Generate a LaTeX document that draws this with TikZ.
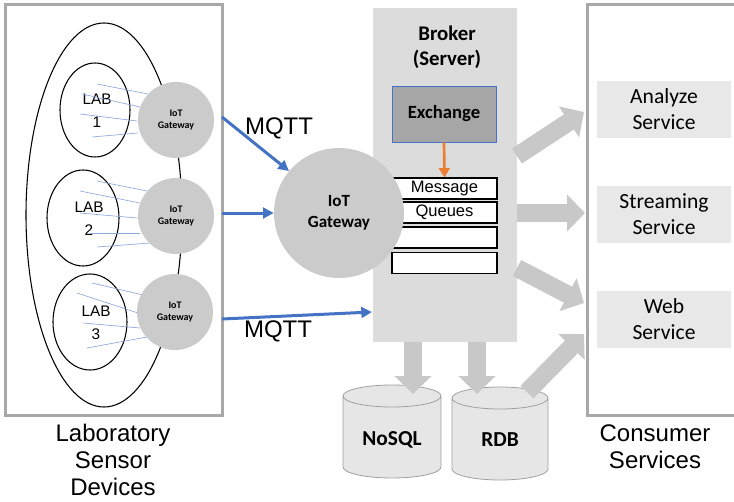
\documentclass[tikz,border=0pt]{standalone}
\usepackage{fontspec}
\setmainfont{Liberation Sans}
\newfontfamily\arial{Liberation Sans}
\newfontfamily\calibri{Carlito}
\usetikzlibrary{arrows.meta,shapes.geometric}
\definecolor{boxgray}{HTML}{A8A8A8}
\definecolor{brokerfill}{HTML}{DCDCDC}
\definecolor{servfill}{HTML}{E8E8E8}
\definecolor{exfill}{HTML}{A6A6A6}
\definecolor{mqblue}{HTML}{4472C4}
\definecolor{thinblue}{HTML}{8EA9DB}
\definecolor{fatgray}{HTML}{C8C8C8}
\definecolor{gwfill}{HTML}{CBCBCB}
\definecolor{orng}{HTML}{ED7D31}
\definecolor{dbfill}{HTML}{E6E6E6}
\definecolor{dbline}{HTML}{A0A0A0}
\tikzset{
  outerbox/.style={draw=boxgray, line width=2.25pt, fill=white},
  labell/.style={draw=black, line width=0.8pt, ellipse, inner sep=0pt},
  labtext/.style={font=\arial\fontsize{11.5}{17}\selectfont, align=center},
  smallgw/.style={circle, fill=gwfill, minimum size=57pt, inner sep=0pt, align=center,
    font=\calibri\bfseries\fontsize{7.5}{8.5}\selectfont},
  biggw/.style={circle, fill=gwfill, minimum size=97.5pt, inner sep=0pt, align=center,
    font=\calibri\bfseries\fontsize{12.8}{15.75}\selectfont},
  sensor/.style={draw=thinblue, line width=0.5pt},
  mqtt/.style={draw=mqblue, line width=2.25pt, -{Triangle[length=8pt,width=8pt]}},
  fat/.style={draw=fatgray, line width=13.5pt, -{Triangle[length=13.5pt,width=27pt]}},
  queue/.style={draw=black, line width=0.8pt, fill=white, minimum width=78.75pt, minimum height=15.75pt,
    inner sep=0pt, font=\arial\fontsize{12.4}{14}\selectfont},
  service/.style={fill=servfill, minimum width=100.5pt, minimum height=42.75pt, inner sep=0pt,
    align=center, font=\calibri\fontsize{16.2}{19.5}\selectfont},
  dbs/.style={draw=dbline, line width=0.6pt, fill=dbfill},
  bigtext/.style={font=\arial\fontsize{18}{20}\selectfont, align=center},
}
\begin{document}
\begin{tikzpicture}[x=0.75pt,y=-0.75pt]
\useasboundingbox (0,0) rectangle (734,502);
% ---------- left box ----------
\node[outerbox, minimum width=162.75pt, minimum height=307.5pt, inner sep=0pt] (labbox) at (113.5,210) {};
\draw[line width=0.8pt] (104,215) ellipse [x radius=58.5pt, y radius=144pt];
\node[labell, minimum width=52.5pt, minimum height=70.5pt] (lab1) at (95,110) {};
\node[labell, minimum width=54pt, minimum height=72pt] (lab2) at (83,218) {};
\node[labell, minimum width=55.5pt, minimum height=72pt] (lab3) at (90,322) {};
\node[labtext] (lab1t) at (97,111) {LAB\\1};
\node[labtext] (lab2t) at (89,219) {LAB\\2};
\node[labtext] (lab3t) at (96,323) {LAB\\3};
% sensor lines
\draw[sensor] (97,84) -- (148,94);
\draw[sensor] (82,94) -- (140,107);
\draw[sensor] (80,114) -- (137,121);
\draw[sensor] (92,137) -- (138,133);
\draw[sensor] (97,181) -- (147,191);
\draw[sensor] (80,191) -- (140,203);
\draw[sensor] (80,213) -- (137,218);
\draw[sensor] (90,233) -- (140,233);
\draw[sensor] (97,247) -- (150,243);
\draw[sensor] (92,283) -- (143,295);
\draw[sensor] (77,293) -- (138,313);
\draw[sensor] (83,323) -- (140,328);
\draw[sensor] (87,348) -- (147,337);
\node[smallgw] (gw1) at (176,120) {IoT\\Gateway};
\node[smallgw] (gw2) at (176,216) {IoT\\Gateway};
\node[smallgw] (gw3) at (175,312) {IoT\\Gateway};
\node[bigtext] (labcap) at (113,460) {Laboratory\\Sensor\\Devices};
% ---------- broker ----------
\node[fill=brokerfill, minimum width=108pt, minimum height=250.5pt, inner sep=0pt] (broker) at (445,175) {};
\node[align=center, font=\calibri\bfseries\fontsize{15.6}{18.75}\selectfont] (brokert) at (447,47) {Broker\\(Server)};
\node[draw=mqblue, line width=0.5pt, fill=exfill, minimum width=78pt, minimum height=42pt, inner sep=0pt,
  font=\calibri\bfseries\fontsize{14}{16}\selectfont] (exch) at (444,114) {Exchange};
\node[queue] (q1) at (444.5,188.5) {Message};
\node[queue] (q2) at (444.5,212.5) {Queues};
\node[queue] (q3) at (444.5,237.5) {};
\node[queue] (q4) at (444.5,263) {};
\draw[orng, line width=2pt, -{Triangle[length=7pt,width=8pt]}] (exch.south) -- (q1.north);
% big gateway
\node[biggw] (bgw) at (339,213) {IoT\\Gateway};
% MQTT arrows
\coordinate (m1s) at (222,117);
\coordinate (m2s) at (222,213);
\coordinate (m3s) at (222,319);
\coordinate (m3e) at (372,312);
\draw[mqtt] (m1s) -- (bgw.140);
\draw[mqtt] (m2s) -- (bgw.west);
\draw[mqtt] (m3s) -- (m3e);
\node[font=\arial\fontsize{18}{20}\selectfont] (mq1) at (279,128) {MQTT};
\node[font=\arial\fontsize{18}{20}\selectfont] (mq2) at (278,331) {MQTT};
% ---------- databases ----------
\fill[dbfill] (343,396) -- (343,467) arc[start angle=180,end angle=360,x radius=36.75pt,y radius=8.25pt]
  -- (441,396) arc[start angle=0,end angle=180,x radius=36.75pt,y radius=8.25pt] -- cycle;
\draw[dbs, fill=none] (343,396) -- (343,467) arc[start angle=180,end angle=360,x radius=36.75pt,y radius=8.25pt]
  -- (441,396) arc[start angle=0,end angle=360,x radius=36.75pt,y radius=8.25pt];
\fill[dbfill] (452,398) -- (452,469) arc[start angle=180,end angle=360,x radius=36pt,y radius=8.25pt]
  -- (548,398) arc[start angle=0,end angle=180,x radius=36pt,y radius=8.25pt] -- cycle;
\draw[dbs, fill=none] (452,398) -- (452,469) arc[start angle=180,end angle=360,x radius=36pt,y radius=8.25pt]
  -- (548,398) arc[start angle=0,end angle=360,x radius=36pt,y radius=8.25pt];
\node[font=\calibri\bfseries\fontsize{16}{18}\selectfont] (nosql) at (392,440) {NoSQL};
\node[font=\calibri\bfseries\fontsize{16}{18}\selectfont] (rdb) at (500,440) {RDB};
\coordinate (nosqltop) at (413,394);
\coordinate (rdbtop) at (477,394);
\draw[fat] (broker.south -| nosqltop) -- (nosqltop);
\draw[fat] (broker.south -| rdbtop) -- (rdbtop);
% ---------- consumer ----------
\node[outerbox, minimum width=113.25pt, minimum height=307.5pt, inner sep=0pt] (consbox) at (663,210) {};
\node[service] (an) at (664,109.5) {Analyze\\Service};
\node[service] (st) at (664,214.5) {Streaming\\Service};
\node[service] (wb) at (664,319.5) {Web\\Service};
\node[bigtext] (conscap) at (655,447) {Consumer\\Services};
\coordinate (f1s) at (517,156);
\coordinate (f1e) at (584,112);
\coordinate (f2s) at (517,213);
\coordinate (f2e) at (585,213);
\coordinate (f3s) at (517,268);
\coordinate (f3e) at (584,303);
\coordinate (f4s) at (527,392);
\coordinate (f4e) at (584,334);
\draw[fat] (f1s) -- (f1e);
\draw[fat] (f2s) -- (f2e);
\draw[fat] (f3s) -- (f3e);
\draw[fat] (f4s) -- (f4e);
\end{tikzpicture}
\end{document}
